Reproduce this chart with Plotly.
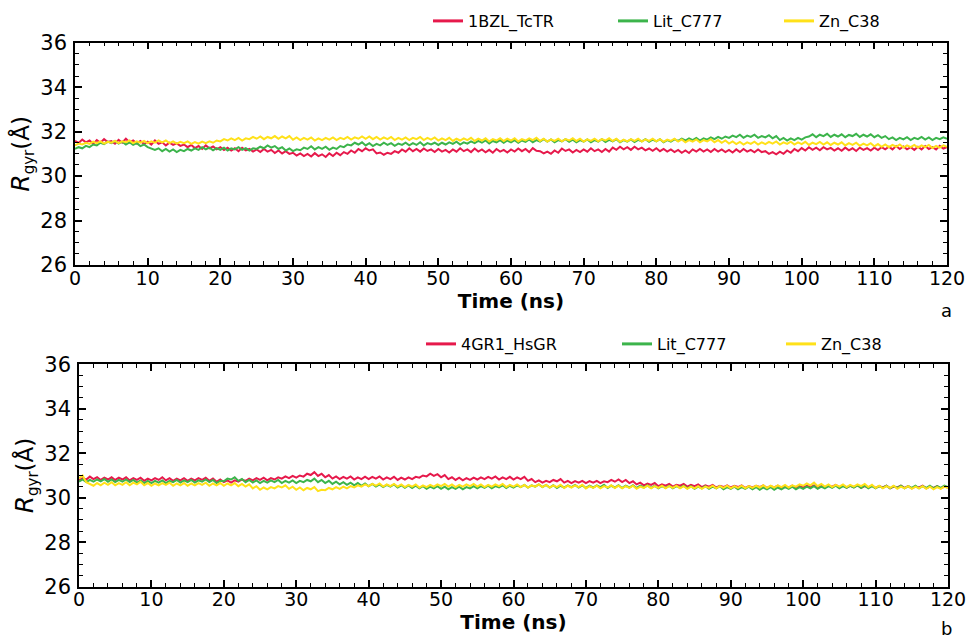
import plotly.graph_objects as go

# time axis: one sample every 0.5 ns, 0..120 ns
time_ns = [i * 0.5 for i in range(241)]

# ---------------- Panel a ----------------
a_1BZL_TcTR = [
    31.58, 31.49, 31.64, 31.52, 31.6, 31.45, 31.62, 31.5, 31.66, 31.53,
    31.57, 31.46, 31.63, 31.5, 31.68, 31.52, 31.6, 31.47, 31.58, 31.44,
    31.55, 31.42, 31.6, 31.45, 31.52, 31.38, 31.5, 31.4, 31.47, 31.36,
    31.42, 31.3, 31.4, 31.26, 31.35, 31.22, 31.38, 31.25, 31.33, 31.2,
    31.3, 31.17, 31.28, 31.15, 31.25, 31.12, 31.27, 31.16, 31.22, 31.1,
    31.2, 31.08, 31.22, 31.1, 31.18, 31.04, 31.15, 31.02, 31.12, 31.0,
    31.05, 30.92, 31.02, 30.9, 31.0, 30.88, 31.03, 30.9, 30.98, 30.86,
    31.02, 30.9, 31.05, 30.94, 31.08, 31.0, 31.15, 31.05, 31.22, 31.12,
    31.25, 31.15, 31.2, 31.02, 31.06, 30.96, 31.05, 31.0, 31.12, 31.05,
    31.2, 31.1, 31.25, 31.12, 31.22, 31.1, 31.24, 31.13, 31.2, 31.08,
    31.22, 31.1, 31.18, 31.06, 31.2, 31.1, 31.25, 31.12, 31.2, 31.08,
    31.24, 31.1, 31.2, 31.07, 31.18, 31.05, 31.22, 31.1, 31.18, 31.06,
    31.2, 31.1, 31.24, 31.12, 31.22, 31.08, 31.26, 31.14, 31.12, 31.02,
    31.1, 31.0, 31.15, 31.05, 31.24, 31.13, 31.2, 31.06, 31.18, 31.08,
    31.2, 31.1, 31.25, 31.12, 31.2, 31.08, 31.22, 31.1, 31.28, 31.18,
    31.32, 31.2, 31.3, 31.18, 31.32, 31.2, 31.28, 31.16, 31.24, 31.14,
    31.25, 31.12, 31.22, 31.1, 31.2, 31.08, 31.18, 31.05, 31.15, 31.04,
    31.2, 31.1, 31.22, 31.1, 31.2, 31.08, 31.22, 31.1, 31.2, 31.08,
    31.18, 31.06, 31.2, 31.08, 31.22, 31.1, 31.18, 31.07, 31.2, 31.08,
    31.12, 31.0, 31.08, 30.98, 31.1, 31.0, 31.15, 31.05, 31.22, 31.12,
    31.26, 31.15, 31.3, 31.18, 31.28, 31.16, 31.3, 31.2, 31.27, 31.15,
    31.25, 31.14, 31.28, 31.16, 31.25, 31.13, 31.28, 31.18, 31.26, 31.15,
    31.28, 31.17, 31.3, 31.2, 31.32, 31.2, 31.35, 31.22, 31.33, 31.2,
    31.3, 31.18, 31.32, 31.2, 31.35, 31.22, 31.3, 31.2, 31.36, 31.24,
    31.3,
]
a_Lit_C777 = [
    31.22, 31.3, 31.25, 31.36, 31.3, 31.42, 31.38, 31.5, 31.44, 31.55,
    31.48, 31.58, 31.46, 31.55, 31.42, 31.52, 31.4, 31.48, 31.35, 31.42,
    31.3, 31.24, 31.18, 31.25, 31.12, 31.22, 31.1, 31.2, 31.08, 31.18,
    31.12, 31.22, 31.15, 31.25, 31.18, 31.3, 31.2, 31.28, 31.16, 31.26,
    31.18, 31.28, 31.15, 31.25, 31.2, 31.3, 31.18, 31.26, 31.15, 31.25,
    31.22, 31.32, 31.25, 31.38, 31.28, 31.35, 31.22, 31.3, 31.15, 31.24,
    31.12, 31.2, 31.16, 31.28, 31.22, 31.34, 31.2, 31.3, 31.22, 31.32,
    31.18, 31.28, 31.22, 31.35, 31.3, 31.42, 31.38, 31.5, 31.42, 31.52,
    31.38, 31.48, 31.35, 31.45, 31.38, 31.5, 31.4, 31.48, 31.36, 31.46,
    31.4, 31.5, 31.38, 31.48, 31.4, 31.52, 31.38, 31.48, 31.42, 31.5,
    31.4, 31.5, 31.42, 31.52, 31.45, 31.55, 31.42, 31.52, 31.46, 31.56,
    31.48, 31.58, 31.5, 31.6, 31.47, 31.58, 31.52, 31.62, 31.5, 31.6,
    31.52, 31.62, 31.5, 31.6, 31.54, 31.65, 31.52, 31.62, 31.55, 31.66,
    31.55, 31.65, 31.52, 31.62, 31.56, 31.66, 31.54, 31.64, 31.52, 31.62,
    31.55, 31.65, 31.52, 31.62, 31.55, 31.66, 31.53, 31.63, 31.56, 31.66,
    31.52, 31.62, 31.55, 31.65, 31.53, 31.63, 31.56, 31.66, 31.54, 31.64,
    31.56, 31.66, 31.52, 31.62, 31.55, 31.65, 31.58, 31.68, 31.6, 31.7,
    31.62, 31.72, 31.6, 31.7, 31.64, 31.74, 31.66, 31.76, 31.68, 31.78,
    31.72, 31.82, 31.75, 31.86, 31.72, 31.82, 31.76, 31.86, 31.72, 31.8,
    31.74, 31.84, 31.7, 31.8, 31.62, 31.72, 31.6, 31.7, 31.62, 31.72,
    31.64, 31.74, 31.78, 31.88, 31.75, 31.86, 31.8, 31.9, 31.76, 31.86,
    31.78, 31.88, 31.75, 31.85, 31.8, 31.9, 31.76, 31.86, 31.78, 31.88,
    31.75, 31.84, 31.72, 31.8, 31.66, 31.74, 31.62, 31.72, 31.65, 31.75,
    31.62, 31.72, 31.66, 31.76, 31.64, 31.74, 31.62, 31.72, 31.66, 31.74,
    31.68,
]
a_Zn_C38 = [
    31.38, 31.46, 31.42, 31.5, 31.45, 31.55, 31.48, 31.56, 31.46, 31.54,
    31.5, 31.58, 31.48, 31.56, 31.52, 31.6, 31.48, 31.56, 31.5, 31.58,
    31.48, 31.56, 31.5, 31.6, 31.52, 31.6, 31.48, 31.56, 31.46, 31.54,
    31.48, 31.56, 31.45, 31.53, 31.46, 31.55, 31.48, 31.56, 31.5, 31.6,
    31.56, 31.66, 31.6, 31.7, 31.62, 31.72, 31.6, 31.7, 31.66, 31.76,
    31.68, 31.78, 31.66, 31.76, 31.7, 31.8, 31.68, 31.78, 31.7, 31.8,
    31.64, 31.74, 31.62, 31.72, 31.64, 31.74, 31.6, 31.7, 31.62, 31.72,
    31.64, 31.74, 31.62, 31.72, 31.66, 31.76, 31.64, 31.74, 31.68, 31.78,
    31.68, 31.78, 31.66, 31.76, 31.64, 31.74, 31.66, 31.76, 31.62, 31.72,
    31.64, 31.74, 31.62, 31.72, 31.66, 31.76, 31.62, 31.72, 31.64, 31.74,
    31.6, 31.7, 31.62, 31.72, 31.58, 31.68, 31.6, 31.7, 31.62, 31.72,
    31.58, 31.68, 31.6, 31.7, 31.56, 31.66, 31.6, 31.7, 31.58, 31.68,
    31.6, 31.7, 31.56, 31.66, 31.6, 31.7, 31.62, 31.72, 31.58, 31.68,
    31.55, 31.65, 31.58, 31.68, 31.56, 31.66, 31.6, 31.7, 31.58, 31.68,
    31.55, 31.65, 31.58, 31.68, 31.56, 31.66, 31.6, 31.7, 31.58, 31.68,
    31.54, 31.64, 31.56, 31.66, 31.58, 31.68, 31.55, 31.65, 31.58, 31.68,
    31.56, 31.66, 31.54, 31.64, 31.58, 31.68, 31.55, 31.65, 31.52, 31.62,
    31.55, 31.65, 31.52, 31.62, 31.56, 31.66, 31.52, 31.62, 31.5, 31.6,
    31.46, 31.56, 31.44, 31.54, 31.42, 31.52, 31.45, 31.55, 31.42, 31.52,
    31.44, 31.54, 31.46, 31.56, 31.42, 31.52, 31.45, 31.55, 31.42, 31.52,
    31.44, 31.54, 31.4, 31.5, 31.44, 31.54, 31.42, 31.52, 31.4, 31.5,
    31.42, 31.52, 31.38, 31.48, 31.4, 31.5, 31.36, 31.46, 31.38, 31.48,
    31.34, 31.44, 31.32, 31.42, 31.3, 31.4, 31.32, 31.42, 31.28, 31.38,
    31.3, 31.4, 31.28, 31.38, 31.3, 31.4, 31.26, 31.36, 31.28, 31.38,
    31.32,
]

# ---------------- Panel b ----------------
b_4GR1_HsGR = [
    30.78, 30.88, 30.82, 30.95, 30.84, 30.92, 30.8, 30.9, 30.82, 30.92,
    30.8, 30.9, 30.82, 30.92, 30.78, 30.88, 30.8, 30.9, 30.76, 30.86,
    30.78, 30.88, 30.8, 30.92, 30.78, 30.88, 30.76, 30.86, 30.78, 30.88,
    30.76, 30.86, 30.78, 30.88, 30.8, 30.9, 30.76, 30.86, 30.72, 30.82,
    30.7, 30.78, 30.68, 30.78, 30.72, 30.82, 30.76, 30.86, 30.78, 30.88,
    30.8, 30.9, 30.78, 30.88, 30.82, 30.92, 30.86, 30.96, 30.88, 30.98,
    30.9, 31.0, 30.95, 31.08, 31.02, 31.15, 30.98, 31.08, 30.92, 31.02,
    30.86, 30.96, 30.84, 30.94, 30.86, 30.96, 30.82, 30.92, 30.84, 30.95,
    30.84, 30.94, 30.86, 30.96, 30.82, 30.92, 30.84, 30.94, 30.8, 30.9,
    30.82, 30.92, 30.84, 30.94, 30.9, 31.0, 30.96, 31.08, 30.98, 31.06,
    30.92, 31.02, 30.84, 30.92, 30.8, 30.9, 30.78, 30.88, 30.8, 30.9,
    30.82, 30.92, 30.84, 30.94, 30.86, 30.96, 30.82, 30.92, 30.84, 30.94,
    30.82, 30.92, 30.84, 30.94, 30.76, 30.84, 30.7, 30.78, 30.68, 30.76,
    30.7, 30.8, 30.74, 30.84, 30.68, 30.76, 30.66, 30.75, 30.68, 30.76,
    30.66, 30.75, 30.68, 30.76, 30.66, 30.74, 30.7, 30.8, 30.72, 30.82,
    30.7, 30.8, 30.66, 30.74, 30.6, 30.68, 30.56, 30.64, 30.58, 30.66,
    30.52, 30.6, 30.54, 30.62, 30.5, 30.58, 30.54, 30.62, 30.5, 30.58,
    30.52, 30.6, 30.48, 30.56, 30.5, 30.58, 30.46, 30.54, 30.48, 30.56,
    30.46, 30.54, 30.48, 30.56, 30.44, 30.52, 30.46, 30.54, 30.48, 30.56,
    30.44, 30.52, 30.46, 30.54, 30.42, 30.5, 30.46, 30.54, 30.44, 30.52,
    30.46, 30.54, 30.48, 30.56, 30.44, 30.52, 30.46, 30.54, 30.5, 30.58,
    30.48, 30.56, 30.46, 30.54, 30.48, 30.56, 30.44, 30.52, 30.46, 30.54,
    30.44, 30.52, 30.46, 30.54, 30.42, 30.5, 30.46, 30.54, 30.44, 30.52,
    30.42, 30.5, 30.46, 30.54, 30.42, 30.5, 30.44, 30.52, 30.42, 30.5,
    30.46,
]
b_Lit_C777 = [
    30.72, 30.82, 30.7, 30.8, 30.72, 30.82, 30.74, 30.84, 30.72, 30.82,
    30.7, 30.8, 30.72, 30.82, 30.7, 30.8, 30.68, 30.78, 30.66, 30.76,
    30.66, 30.76, 30.68, 30.78, 30.66, 30.76, 30.7, 30.8, 30.68, 30.78,
    30.7, 30.8, 30.68, 30.78, 30.72, 30.82, 30.7, 30.8, 30.66, 30.76,
    30.74, 30.86, 30.82, 30.92, 30.76, 30.84, 30.7, 30.8, 30.68, 30.78,
    30.66, 30.76, 30.68, 30.78, 30.7, 30.8, 30.66, 30.76, 30.68, 30.78,
    30.66, 30.76, 30.7, 30.8, 30.74, 30.86, 30.7, 30.8, 30.66, 30.76,
    30.62, 30.72, 30.6, 30.7, 30.58, 30.68, 30.56, 30.66, 30.54, 30.64,
    30.52, 30.62, 30.5, 30.6, 30.48, 30.58, 30.5, 30.6, 30.46, 30.56,
    30.45, 30.55, 30.44, 30.54, 30.42, 30.52, 30.4, 30.5, 30.42, 30.52,
    30.4, 30.5, 30.38, 30.48, 30.4, 30.5, 30.38, 30.48, 30.42, 30.52,
    30.42, 30.52, 30.44, 30.54, 30.42, 30.52, 30.46, 30.56, 30.44, 30.54,
    30.46, 30.56, 30.48, 30.58, 30.46, 30.56, 30.5, 30.6, 30.48, 30.58,
    30.46, 30.56, 30.44, 30.54, 30.46, 30.56, 30.48, 30.58, 30.46, 30.56,
    30.44, 30.54, 30.46, 30.56, 30.48, 30.58, 30.44, 30.54, 30.46, 30.56,
    30.44, 30.54, 30.46, 30.56, 30.44, 30.54, 30.46, 30.56, 30.44, 30.54,
    30.42, 30.52, 30.44, 30.54, 30.42, 30.52, 30.44, 30.54, 30.42, 30.52,
    30.4, 30.5, 30.42, 30.52, 30.4, 30.5, 30.42, 30.52, 30.38, 30.48,
    30.4, 30.5, 30.38, 30.48, 30.4, 30.5, 30.38, 30.48, 30.36, 30.46,
    30.38, 30.48, 30.36, 30.46, 30.38, 30.48, 30.4, 30.5, 30.38, 30.48,
    30.4, 30.5, 30.42, 30.52, 30.4, 30.5, 30.42, 30.52, 30.44, 30.54,
    30.42, 30.52, 30.44, 30.54, 30.46, 30.56, 30.44, 30.54, 30.42, 30.52,
    30.42, 30.52, 30.44, 30.54, 30.42, 30.52, 30.44, 30.54, 30.42, 30.52,
    30.44, 30.54, 30.42, 30.52, 30.44, 30.54, 30.42, 30.52, 30.44, 30.54,
    30.48,
]
b_Zn_C38 = [
    30.88, 31.0, 30.7, 30.62, 30.54, 30.66, 30.56, 30.68, 30.58, 30.7,
    30.56, 30.66, 30.58, 30.7, 30.56, 30.68, 30.6, 30.72, 30.56, 30.66,
    30.54, 30.64, 30.56, 30.66, 30.58, 30.68, 30.54, 30.64, 30.56, 30.66,
    30.54, 30.64, 30.56, 30.66, 30.58, 30.68, 30.54, 30.64, 30.56, 30.66,
    30.54, 30.64, 30.56, 30.66, 30.52, 30.62, 30.5, 30.6, 30.42, 30.52,
    30.36, 30.46, 30.38, 30.48, 30.42, 30.52, 30.46, 30.56, 30.4, 30.5,
    30.36, 30.46, 30.34, 30.44, 30.38, 30.48, 30.3, 30.36, 30.34, 30.44,
    30.38, 30.48, 30.4, 30.5, 30.42, 30.52, 30.46, 30.56, 30.5, 30.6,
    30.52, 30.62, 30.54, 30.64, 30.5, 30.6, 30.52, 30.62, 30.5, 30.6,
    30.48, 30.58, 30.5, 30.6, 30.46, 30.56, 30.48, 30.58, 30.5, 30.6,
    30.52, 30.62, 30.5, 30.6, 30.48, 30.58, 30.5, 30.6, 30.52, 30.62,
    30.5, 30.6, 30.48, 30.58, 30.5, 30.6, 30.52, 30.62, 30.48, 30.58,
    30.5, 30.6, 30.48, 30.58, 30.46, 30.56, 30.5, 30.6, 30.48, 30.58,
    30.46, 30.56, 30.48, 30.58, 30.44, 30.54, 30.46, 30.56, 30.48, 30.58,
    30.42, 30.52, 30.44, 30.54, 30.42, 30.52, 30.46, 30.56, 30.44, 30.54,
    30.42, 30.52, 30.44, 30.54, 30.4, 30.5, 30.44, 30.54, 30.42, 30.52,
    30.44, 30.54, 30.42, 30.52, 30.44, 30.54, 30.42, 30.52, 30.4, 30.5,
    30.42, 30.52, 30.4, 30.5, 30.44, 30.54, 30.42, 30.52, 30.44, 30.54,
    30.42, 30.52, 30.44, 30.54, 30.42, 30.52, 30.44, 30.54, 30.46, 30.56,
    30.44, 30.54, 30.46, 30.56, 30.48, 30.58, 30.46, 30.56, 30.5, 30.6,
    30.54, 30.64, 30.56, 30.68, 30.52, 30.62, 30.5, 30.6, 30.48, 30.58,
    30.5, 30.6, 30.48, 30.58, 30.5, 30.6, 30.52, 30.62, 30.48, 30.58,
    30.44, 30.54, 30.42, 30.52, 30.44, 30.54, 30.4, 30.5, 30.42, 30.52,
    30.4, 30.5, 30.42, 30.52, 30.4, 30.5, 30.38, 30.48, 30.4, 30.5,
    30.44,
]

x_ticks = [0, 10, 20, 30, 40, 50, 60, 70, 80, 90, 100, 110, 120]
y_ticks = [26, 28, 30, 32, 34, 36]

RED = "#e6194b"
GREEN = "#3cb44b"
YELLOW = "#ffe119"

W, H = 968, 638
FONT = "DejaVu Sans"
YTITLE = "<i>R</i><sub><span style='font-size:15px'>gyr</span></sub><span style='font-size:23px'>(Å)</span>"

panels = [
    dict(xa="x", ya="y",
         series=[("1BZL_TcTR", a_1BZL_TcTR, RED), ("Lit_C777", a_Lit_C777, GREEN), ("Zn_C38", a_Zn_C38, YELLOW)],
         px=(75, 947), py=(42.7, 265), legx=[428, 613, 779], legy=21, tag="a", tagy=311),
    dict(xa="x2", ya="y2",
         series=[("4GR1_HsGR", b_4GR1_HsGR, RED), ("Lit_C777", b_Lit_C777, GREEN), ("Zn_C38", b_Zn_C38, YELLOW)],
         px=(79, 948), py=(364.3, 586.7), legx=[421, 617, 781], legy=344, tag="b", tagy=628),
]


def _standoff_ok(v):
    try:
        go.layout.XAxis(ticklabelstandoff=v)
        return True
    except Exception:
        return False


X_STANDOFF = -5 if _standoff_ok(-5) else 0

fig = go.Figure()
layout = dict(width=W, height=H, margin=dict(l=0, r=0, t=0, b=0, autoexpand=False),
              paper_bgcolor="white", plot_bgcolor="white",
              font=dict(family=FONT, color="black"), annotations=[])
leg_i = 0
for p in panels:
    for name, vals, col in p["series"]:
        fig.add_trace(go.Scatter(x=time_ns, y=vals, mode="lines", line=dict(color=col, width=2),
                                 xaxis=p["xa"], yaxis=p["ya"], showlegend=False, hoverinfo="skip"))
    for k, (name, vals, col) in enumerate(p["series"]):
        leg_i += 1
        lname = "legend" if leg_i == 1 else f"legend{leg_i}"
        fig.add_trace(go.Scatter(x=[None], y=[None], mode="lines", name=name, line=dict(color=col, width=3),
                                 xaxis=p["xa"], yaxis=p["ya"], legend=lname))
        layout[lname] = dict(x=p["legx"][k] / W, y=1 - p["legy"] / H, xanchor="left", yanchor="middle",
                             orientation="h", bgcolor="rgba(0,0,0,0)", font=dict(size=16, family=FONT),
                             itemwidth=30)
    axis_common = dict(showline=True, linecolor="black", linewidth=1.5, mirror="ticks",
                       ticks="inside", ticklen=7, tickwidth=1.5, tickcolor="black",
                       showgrid=False, zeroline=False, automargin=False)
    xk = "xaxis" if p["xa"] == "x" else "xaxis2"
    yk = "yaxis" if p["ya"] == "y" else "yaxis2"
    layout[xk] = dict(axis_common, domain=[p["px"][0] / W, p["px"][1] / W], range=[0, 120],
                      anchor=p["ya"], tickvals=x_ticks, ticktext=[str(v) for v in x_ticks],
                      tickfont=dict(size=19, family=FONT),
                      minor=dict(dtick=2, tick0=0, ticks="inside", ticklen=4, tickwidth=1.2, tickcolor="black"),
                      title=dict(text="<b>Time (ns)</b>", font=dict(size=20, family=FONT), standoff=4),
                      ticklabelstandoff=X_STANDOFF)
    layout[yk] = dict(axis_common, domain=[1 - p["py"][1] / H, 1 - p["py"][0] / H], range=[26, 36],
                      anchor=p["xa"], tickvals=y_ticks, ticktext=[str(v) for v in y_ticks],
                      tickfont=dict(size=21, family=FONT),
                      minor=dict(dtick=0.5, tick0=26, ticks="inside", ticklen=4, tickwidth=1.2, tickcolor="black"),
                      title=dict(text=YTITLE, font=dict(size=25, family=FONT), standoff=4),
                      ticklabelstandoff=2)
    layout["annotations"].append(dict(text=p["tag"], x=946 / W, y=1 - p["tagy"] / H, xref="paper", yref="paper",
                                      showarrow=False, font=dict(size=18, family=FONT),
                                      xanchor="center", yanchor="middle"))

fig.update_layout(**layout)
fig.write_html("out.html")
